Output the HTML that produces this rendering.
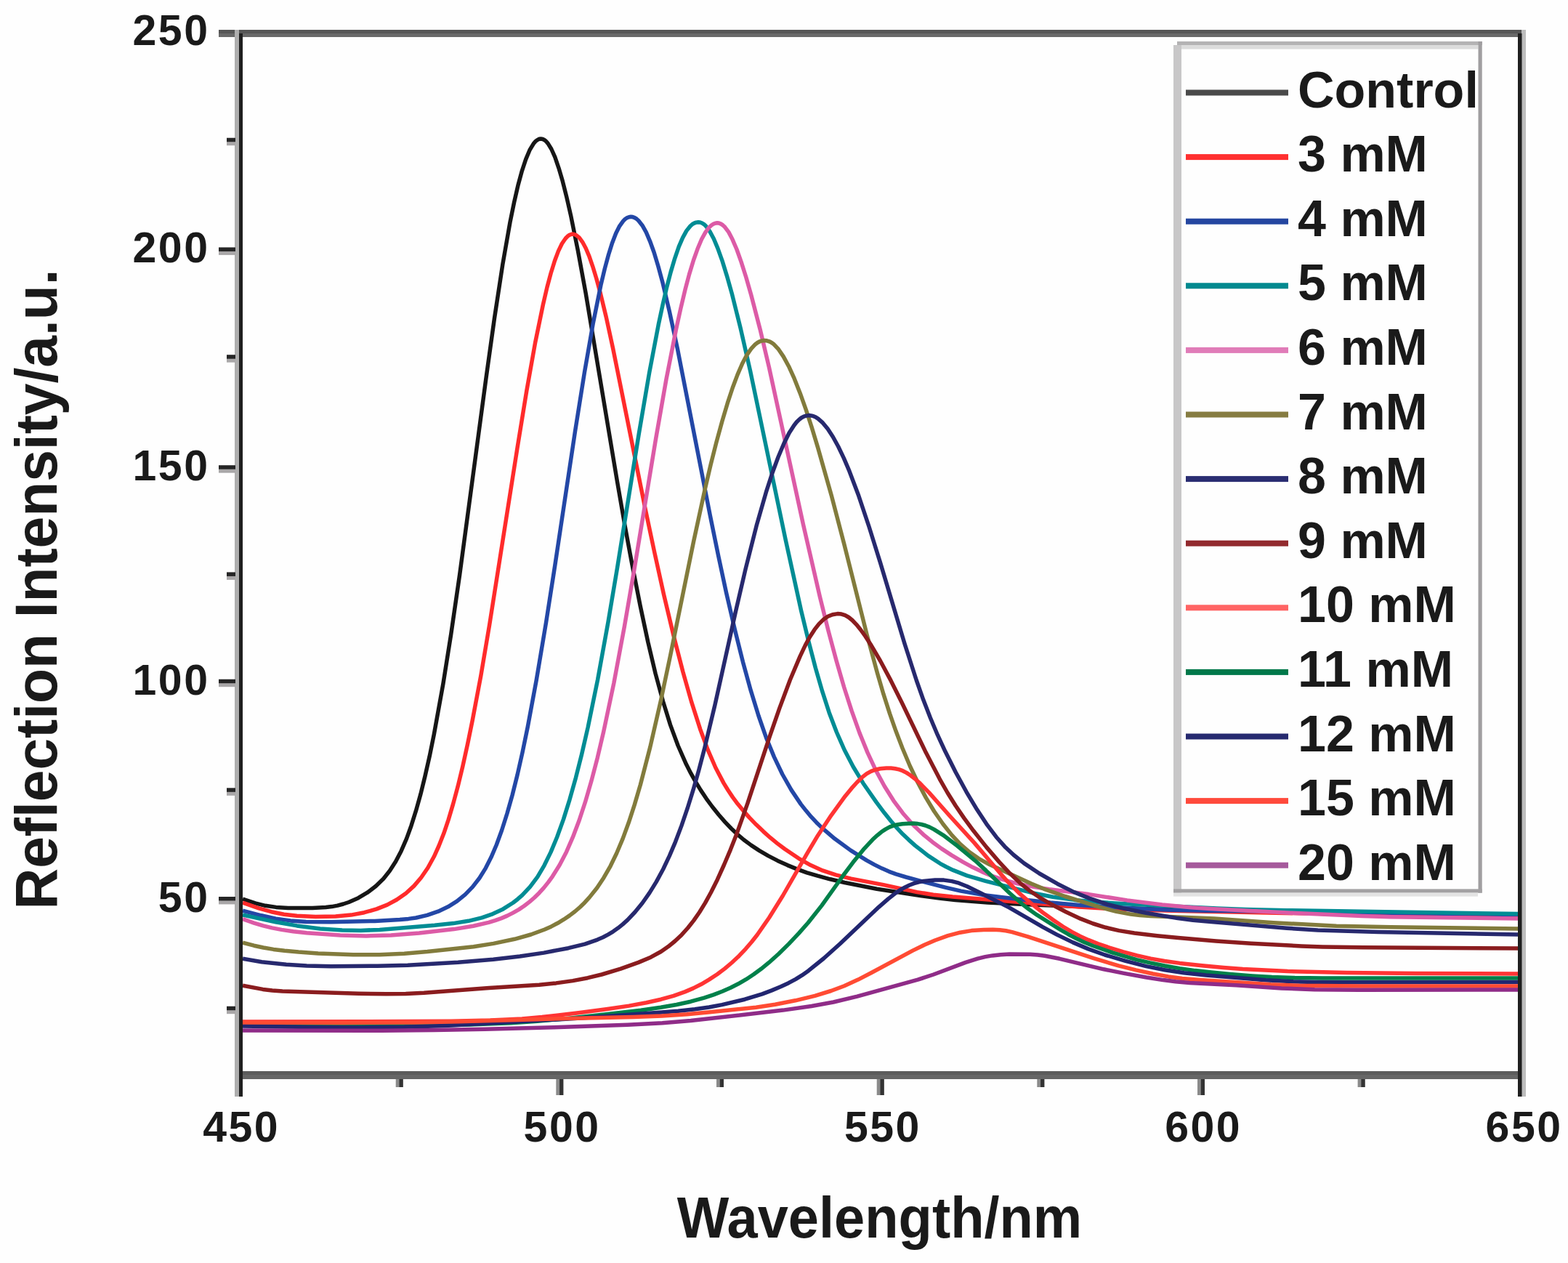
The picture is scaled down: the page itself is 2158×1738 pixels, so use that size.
<!DOCTYPE html>
<html><head><meta charset="utf-8"><style>
html,body{margin:0;padding:0;background:#fefefe;overflow:hidden}
svg{display:block}
</style></head><body>
<svg xmlns="http://www.w3.org/2000/svg" width="2158" height="1738" viewBox="0 0 2158 1738">
<rect x="0" y="0" width="2158" height="1738" fill="#fefefe"/>
<defs><clipPath id="plotclip"><rect x="334" y="51" width="1755" height="1423"/></clipPath></defs>
<g fill="none" stroke-width="5.5" stroke-linejoin="round" stroke-linecap="butt" clip-path="url(#plotclip)">
<path d="M334.0,1237.2L351.3,1242.9 365.3,1246.3 379.9,1248.4 396.6,1249.5 430.0,1249.5 448.4,1248.6 456.6,1247.6 464.5,1246.1 472.4,1244.0 480.0,1241.5 493.1,1235.7 505.7,1228.2 517.4,1219.2 527.7,1209.2 536.4,1198.3 544.6,1185.6 552.2,1170.9 559.6,1153.9 566.0,1136.2 572.4,1115.9 578.9,1092.8 585.0,1068.0 591.2,1040.7 597.3,1010.6 609.9,940.9 620.7,873.0 632.7,790.5 668.7,522.3 680.4,438.5 691.8,363.9 702.0,305.7 707.6,278.4 713.1,254.4 718.4,235.1 723.7,219.1 728.9,206.7 734.2,197.8 736.8,194.7 739.5,192.6 742.1,191.3 744.4,191.0 747.1,191.5 749.4,192.7 751.8,194.7 754.1,197.4 758.8,205.0 763.8,216.2 769.0,231.3 774.3,249.3 779.8,271.2 785.7,297.0 795.3,344.5 806.2,403.8 849.8,664.6 860.0,723.2 869.4,774.1 881.1,833.4 891.9,883.9 902.1,926.9 912.4,964.8 922.6,997.6 933.1,1026.0 944.5,1051.8 950.7,1063.9 957.1,1075.4 964.4,1087.4 972.0,1098.8 980.2,1110.0 989.0,1121.0 997.8,1131.1 1006.3,1140.0 1014.8,1148.1 1023.5,1155.5 1033.8,1163.1 1045.2,1170.6 1057.2,1177.6 1070.3,1184.4 1083.8,1190.6 1096.7,1195.9 1110.4,1200.8 1125.1,1205.2 1142.3,1209.8 1162.5,1214.5 1206.7,1223.2 1268.4,1232.8 1292.7,1236.0 1314.6,1238.4 1359.4,1241.9 1420.8,1245.0 1559.2,1250.1 1667.7,1253.5 1754.6,1255.5 1848.2,1257.0 2089.0,1259.0" stroke="#161616"/>
<path d="M334.0,1242.1L356.2,1249.8 373.5,1254.7 390.8,1258.2 408.6,1260.3 434.3,1261.4 461.8,1260.9 483.2,1259.1 501.3,1255.7 518.3,1250.9 532.9,1245.1 546.1,1238.0 558.7,1229.2 569.8,1219.1 579.7,1207.5 588.8,1194.3 597.3,1178.8 604.0,1164.0 610.8,1146.8 617.2,1127.9 623.6,1106.4 630.1,1082.3 636.8,1054.6 643.5,1024.2 650.2,991.4 661.7,930.4 673.6,860.1 712.0,616.4 724.8,537.7 736.8,470.6 747.4,419.1 752.9,395.5 758.2,375.8 763.5,358.8 768.4,345.6 773.4,335.3 778.4,328.0 781.0,325.3 783.4,323.6 786.0,322.4 788.3,322.1 790.4,322.4 792.7,323.4 797.1,326.9 801.5,332.8 806.2,341.5 810.9,352.6 815.8,366.8 820.8,383.2 826.1,402.7 834.3,436.5 843.6,479.3 887.8,698.9 901.0,761.2 913.5,817.8 927.0,874.5 939.9,924.5 951.9,966.7 963.6,1003.2 974.1,1031.6 984.9,1056.5 996.0,1077.6 1001.9,1087.3 1008.3,1096.9 1015.3,1106.3 1023.0,1115.6 1031.4,1125.1 1040.8,1134.8 1050.5,1144.1 1060.1,1152.7 1069.8,1160.6 1080.0,1168.3 1099.3,1181.3 1115.7,1190.6 1132.1,1197.9 1150.2,1203.9 1171.3,1209.1 1216.0,1217.6 1262.0,1227.6 1284.5,1231.2 1311.1,1234.1 1485.2,1248.0 1522.6,1250.2 1563.9,1251.9 1623.3,1253.5 1847.9,1258.0 1949.7,1259.1 2089.0,1260.0" stroke="#ff2b2b"/>
<path d="M334.0,1253.1L359.5,1259.8 379.6,1264.1 399.8,1266.9 421.2,1268.5 455.7,1268.8 515.7,1267.4 550.2,1265.6 562.2,1264.4 572.4,1263.0 587.9,1259.4 603.1,1254.2 616.6,1247.8 628.9,1240.1 640.3,1230.9 650.5,1220.4 659.9,1208.3 668.4,1194.6 676.0,1179.6 683.3,1162.5 690.6,1142.5 697.9,1119.5 705.0,1094.5 712.0,1066.5 719.0,1035.5 726.3,1000.1 738.3,935.6 751.5,856.9 763.8,778.0 791.5,593.6 804.4,512.6 816.1,445.8 826.9,392.4 832.2,370.1 837.5,350.5 842.7,333.9 847.7,321.0 852.7,311.1 857.7,304.1 860.3,301.5 862.9,299.8 865.6,298.7 868.2,298.3 870.8,298.6 873.5,299.6 876.1,301.2 878.7,303.5 884.0,310.2 889.3,319.7 894.5,331.8 900.1,347.3 905.9,366.5 911.8,388.2 921.4,428.8 932.3,479.4 977.3,709.2 988.7,765.0 999.5,815.3 1011.3,866.2 1022.4,910.7 1033.2,949.9 1044.0,985.0 1054.5,1015.1 1065.4,1041.6 1076.8,1065.5 1089.1,1087.1 1102.2,1106.6 1109.3,1115.6 1116.3,1123.9 1123.6,1131.7 1131.5,1139.4 1149.0,1154.3 1170.7,1170.1 1192.6,1183.9 1203.5,1189.9 1214.0,1195.1 1223.6,1199.3 1233.3,1202.8 1247.0,1207.0 1270.7,1213.4 1301.8,1221.3 1322.5,1226.1 1352.4,1231.4 1391.6,1236.3 1445.4,1242.1 1484.9,1245.4 1564.8,1250.2 1610.4,1252.3 1660.7,1253.2 1824.2,1254.5 1946.5,1256.8 2089.0,1258.5" stroke="#2347a6"/>
<path d="M334.0,1259.0L379.3,1268.7 408.6,1273.9 440.5,1277.9 470.9,1280.0 496.4,1280.4 522.4,1279.4 598.2,1273.3 623.9,1270.6 644.7,1267.3 663.1,1262.9 678.3,1257.6 692.4,1250.9 706.1,1242.2 712.6,1237.2 718.7,1231.9 729.5,1220.4 739.8,1206.6 749.1,1190.8 757.9,1172.9 766.7,1151.8 775.5,1127.4 783.9,1100.6 792.4,1070.4 800.6,1038.0 809.1,1001.0 822.6,935.3 836.9,856.6 849.5,781.6 879.3,596.7 893.6,513.1 906.2,446.9 912.1,419.4 917.6,395.5 923.2,374.1 928.8,355.3 934.3,339.4 939.6,327.1 944.8,317.6 950.1,311.0 952.7,308.7 955.4,307.1 958.0,306.1 960.9,305.7 963.6,306.0 966.2,307.0 968.8,308.6 971.5,311.1 976.7,318.1 982.3,328.5 987.8,341.6 994.0,358.9 1000.4,379.6 1007.2,403.7 1019.1,451.4 1032.6,510.5 1081.5,744.2 1102.5,839.8 1112.8,882.4 1122.4,919.3 1131.8,951.7 1141.1,980.4 1151.4,1007.5 1162.2,1032.0 1174.2,1055.0 1187.9,1077.7 1206.1,1103.9 1216.9,1118.3 1226.3,1130.0 1234.5,1139.4 1242.4,1147.8 1250.6,1155.6 1259.9,1163.9 1277.5,1177.6 1293.9,1188.3 1302.6,1193.0 1311.7,1197.4 1330.7,1204.9 1356.2,1212.4 1420.8,1228.7 1448.9,1234.3 1478.7,1238.4 1506.2,1241.1 1538.7,1243.2 1674.8,1249.9 1714.0,1251.4 1771.3,1252.7 2089.0,1257.5" stroke="#008c94"/>
<path d="M334.0,1264.6L349.5,1270.1 362.1,1273.9 374.4,1276.9 387.5,1279.4 403.6,1281.7 422.1,1283.7 468.3,1287.0 504.0,1287.9 537.9,1287.0 576.8,1284.0 624.8,1278.6 651.4,1274.3 672.5,1269.4 681.5,1266.7 690.0,1263.6 698.2,1260.1 706.1,1256.1 714.0,1251.6 721.6,1246.5 728.9,1240.9 735.7,1235.0 742.1,1228.7 748.5,1221.6 754.7,1213.9 760.5,1205.8 770.2,1190.3 779.6,1172.2 788.3,1152.2 796.8,1129.8 805.3,1104.2 813.8,1075.1 822.3,1042.7 830.7,1006.8 844.8,940.3 859.4,862.1 872.6,785.5 902.7,603.3 917.0,521.8 930.5,453.1 936.7,425.0 942.8,399.3 948.6,377.4 954.5,358.0 960.1,342.3 965.6,329.3 970.9,319.6 976.1,312.7 979.1,310.0 981.7,308.3 984.3,307.2 987.0,306.8 989.6,307.1 992.2,308.1 994.9,309.9 997.5,312.3 1002.8,319.4 1008.0,329.3 1013.9,343.0 1020.0,360.2 1026.8,381.5 1033.8,406.0 1046.1,453.2 1058.6,506.2 1105.5,721.8 1128.3,820.8 1140.0,867.8 1151.1,909.3 1161.6,945.5 1172.2,978.3 1183.0,1008.6 1194.1,1035.9 1205.2,1059.6 1217.2,1081.7 1229.8,1101.8 1242.7,1119.2 1256.4,1134.7 1271.9,1149.4 1283.3,1158.7 1295.9,1167.9 1309.7,1176.9 1325.2,1186.2 1338.9,1193.6 1351.5,1199.6 1364.6,1205.1 1378.4,1209.9 1400.0,1215.9 1423.7,1220.6 1444.2,1223.7 1498.3,1230.6 1551.3,1238.9 1599.6,1244.9 1639.6,1248.8 1665.4,1250.4 1776.6,1256.2 1874.3,1260.5 1914.1,1261.8 2089.0,1264.0" stroke="#dc5ba6"/>
<path d="M334.0,1297.1L349.5,1301.2 362.4,1304.0 376.4,1306.4 391.6,1308.3 410.9,1310.1 437.9,1311.9 486.1,1313.8 522.4,1313.7 556.3,1312.2 588.2,1309.6 651.7,1302.8 679.2,1298.4 708.2,1292.3 730.7,1286.0 749.7,1279.0 758.8,1274.9 767.6,1270.3 776.0,1265.2 783.9,1259.9 791.3,1254.3 798.3,1248.2 805.0,1241.7 811.4,1234.6 821.7,1221.7 831.0,1207.7 840.1,1191.8 848.6,1174.3 857.1,1154.1 865.3,1131.8 873.2,1107.6 881.4,1079.7 894.8,1028.0 909.4,964.3 922.6,902.0 954.5,745.6 970.3,672.8 978.2,639.2 985.8,609.1 993.7,580.2 1001.3,554.7 1008.3,533.5 1015.1,515.4 1021.5,500.6 1027.6,488.9 1033.8,479.9 1039.6,473.7 1042.6,471.5 1045.8,469.8 1048.7,468.9 1051.9,468.5 1055.4,468.8 1058.6,469.8 1061.9,471.5 1065.1,473.8 1071.5,480.7 1078.2,490.6 1085.6,504.2 1093.2,520.9 1101.1,540.9 1109.3,563.9 1117.2,588.2 1125.6,615.9 1144.4,682.2 1161.6,748.0 1192.9,872.6 1207.6,926.7 1216.0,955.4 1224.5,981.9 1233.0,1006.1 1242.1,1029.8 1252.3,1054.0 1263.1,1076.8 1274.3,1097.6 1285.7,1116.5 1297.7,1133.8 1309.7,1148.9 1321.6,1161.6 1334.2,1172.6 1347.1,1181.6 1361.7,1189.6 1419.4,1216.0 1436.9,1223.3 1465.9,1233.5 1513.0,1248.2 1536.4,1254.4 1556.3,1258.1 1568.8,1259.5 1583.2,1260.6 1670.7,1264.1 1752.6,1269.8 1839.2,1274.2 1913.8,1275.8 2089.0,1278.0" stroke="#827b3c"/>
<path d="M334.0,1319.2L360.3,1323.7 394.0,1327.3 422.1,1329.1 455.4,1329.7 519.5,1329.3 561.0,1328.2 630.4,1324.2 678.9,1320.2 715.5,1316.0 748.5,1311.1 782.2,1304.7 805.0,1299.1 822.3,1293.1 829.9,1289.8 837.2,1285.9 843.9,1281.8 850.6,1277.1 857.1,1271.9 863.5,1266.1 874.0,1255.0 884.0,1242.8 893.9,1228.6 903.3,1213.4 912.7,1196.0 921.4,1177.6 929.6,1158.3 937.8,1136.6 946.0,1112.7 953.9,1087.4 961.8,1059.7 969.4,1030.8 984.0,969.8 1012.4,841.8 1026.2,782.5 1041.1,723.6 1054.8,675.8 1063.0,650.7 1070.9,629.3 1078.8,610.5 1086.1,595.8 1092.9,585.2 1096.4,580.8 1099.6,577.6 1102.8,575.0 1106.3,573.1 1109.5,572.1 1113.1,571.6 1116.3,571.9 1119.5,572.7 1122.7,574.1 1125.9,576.1 1132.4,581.9 1139.1,590.1 1146.4,601.2 1153.7,614.5 1161.3,630.4 1168.9,648.2 1181.8,682.3 1196.1,725.0 1211.4,773.9 1245.0,885.8 1261.4,936.5 1270.7,962.8 1280.4,987.7 1290.3,1011.2 1300.9,1034.1 1315.2,1062.5 1330.1,1089.8 1344.8,1114.3 1358.8,1135.4 1371.1,1151.7 1382.8,1164.9 1395.1,1176.5 1409.7,1188.1 1430.5,1202.0 1455.3,1216.2 1478.2,1227.6 1499.2,1236.1 1524.1,1244.3 1546.0,1250.0 1577.3,1256.2 1620.9,1263.6 1641.7,1266.2 1667.4,1268.6 1771.0,1277.3 1813.7,1280.0 1897.1,1282.4 2089.0,1286.0" stroke="#27296e"/>
<path d="M334.0,1356.1L361.8,1361.4 374.7,1363.0 388.7,1364.1 494.0,1367.3 531.8,1367.8 558.4,1367.4 583.5,1366.3 673.1,1359.5 742.1,1355.3 765.2,1352.9 788.3,1349.6 808.8,1345.7 828.1,1341.0 854.2,1333.1 878.7,1324.4 895.7,1317.2 909.7,1309.5 919.7,1302.6 929.0,1295.0 938.1,1286.4 946.6,1277.0 954.8,1266.6 962.7,1255.2 970.6,1242.4 978.5,1228.0 987.3,1210.4 996.3,1190.5 1005.4,1169.1 1014.2,1146.7 1028.8,1105.7 1058.9,1014.7 1072.7,974.9 1087.3,935.8 1101.1,903.1 1108.1,888.4 1114.5,876.5 1121.0,866.4 1127.1,858.6 1133.2,852.6 1139.4,848.3 1145.8,845.7 1152.6,844.6 1158.1,845.1 1163.1,846.6 1168.1,849.5 1173.0,853.5 1178.6,859.3 1184.4,866.5 1190.9,875.5 1198.2,886.7 1211.6,909.5 1226.0,936.4 1240.9,966.3 1274.3,1035.6 1293.3,1072.1 1304.1,1091.0 1315.2,1108.8 1326.9,1125.9 1339.8,1143.3 1357.3,1165.4 1374.9,1185.9 1389.8,1201.8 1403.9,1215.1 1416.4,1225.2 1430.2,1234.6 1447.1,1244.5 1467.3,1255.0 1487.5,1264.4 1504.5,1271.0 1521.7,1276.3 1540.2,1280.6 1561.2,1284.0 1592.5,1287.7 1621.5,1290.6 1673.6,1295.1 1721.6,1298.2 1791.5,1301.9 1820.1,1302.9 1876.0,1303.7 2089.0,1305.0" stroke="#8a1c1e"/>
<path d="M334.0,1406.0L500.2,1405.8 620.4,1405.2 674.8,1404.1 718.4,1402.0 745.9,1399.6 796.2,1393.8 834.3,1388.8 865.6,1384.1 889.6,1379.7 909.7,1375.2 927.0,1370.4 942.5,1364.9 954.2,1359.9 965.3,1354.3 976.1,1347.9 987.0,1340.8 997.5,1332.9 1007.4,1324.5 1017.1,1315.4 1026.2,1305.8 1034.4,1296.3 1042.3,1286.2 1058.6,1262.7 1077.4,1232.5 1111.3,1173.6 1125.6,1149.7 1144.1,1121.8 1163.1,1095.7 1171.9,1084.9 1179.5,1076.5 1186.5,1069.7 1192.9,1064.7 1198.8,1061.4 1204.6,1059.2 1211.4,1057.8 1219.8,1057.1 1226.3,1057.1 1232.1,1057.7 1237.4,1058.9 1242.4,1060.7 1247.6,1063.4 1253.2,1067.0 1259.0,1071.5 1265.2,1077.0 1278.6,1090.7 1307.3,1123.0 1341.0,1159.9 1376.6,1201.8 1387.2,1213.6 1402.4,1228.8 1420.2,1244.1 1435.2,1255.7 1448.9,1265.6 1462.9,1275.0 1475.2,1282.4 1486.3,1288.2 1497.8,1293.4 1511.5,1298.8 1527.0,1304.1 1546.0,1309.9 1565.0,1314.9 1583.8,1319.1 1602.8,1322.5 1623.6,1325.4 1654.3,1328.8 1683.8,1331.6 1710.4,1333.6 1772.2,1336.5 1853.5,1338.4 1948.6,1339.5 2089.0,1340.0" stroke="#ff3434"/>
<path d="M334.0,1411.0L468.3,1411.7 566.6,1411.4 645.9,1410.1 703.2,1407.8 739.5,1405.2 781.3,1401.4 836.3,1395.6 881.9,1390.2 909.4,1386.3 931.1,1382.5 950.7,1378.2 969.1,1373.1 982.0,1368.9 994.0,1364.3 1005.4,1359.3 1016.2,1353.8 1026.8,1347.7 1037.3,1340.8 1047.5,1333.3 1058.1,1324.7 1071.5,1312.7 1085.6,1298.9 1099.3,1284.4 1112.2,1269.8 1130.9,1246.1 1161.0,1204.0 1173.9,1186.8 1188.2,1169.2 1200.8,1155.6 1207.3,1149.6 1213.1,1144.8 1218.7,1141.1 1224.2,1138.1 1229.5,1136.1 1235.3,1134.7 1242.1,1133.7 1250.6,1133.2 1257.3,1133.1 1263.1,1133.6 1268.4,1134.5 1273.7,1136.0 1279.2,1138.1 1285.1,1141.1 1298.2,1149.3 1317.3,1163.8 1342.1,1184.3 1357.0,1197.9 1389.8,1229.2 1407.1,1244.3 1416.4,1251.5 1427.0,1258.9 1458.6,1278.9 1470.3,1285.7 1481.4,1291.5 1492.5,1296.7 1504.2,1301.5 1531.7,1311.2 1564.2,1320.6 1582.6,1324.9 1602.8,1329.0 1623.8,1332.6 1644.9,1335.6 1667.1,1338.1 1692.9,1340.5 1723.6,1342.9 1750.5,1344.5 1781.8,1345.6 1820.1,1346.0 2089.0,1346.0" stroke="#00804a"/>
<path d="M334.0,1412.0L427.0,1413.6 494.9,1414.0 556.3,1413.3 612.8,1411.4 795.1,1401.3 903.9,1393.6 933.4,1391.2 956.3,1388.8 975.9,1386.0 993.7,1382.6 1025.0,1375.2 1049.0,1367.8 1062.2,1362.9 1074.4,1357.8 1085.3,1352.7 1095.2,1347.3 1104.0,1341.9 1112.8,1335.7 1133.5,1319.0 1156.1,1298.7 1209.3,1248.3 1222.2,1237.1 1233.0,1228.7 1239.4,1224.4 1245.6,1220.9 1251.7,1218.0 1257.9,1215.7 1264.3,1213.9 1271.3,1212.4 1286.8,1210.9 1299.1,1211.1 1309.9,1212.6 1319.6,1215.2 1331.0,1219.8 1350.3,1229.2 1388.9,1248.9 1434.6,1275.3 1454.5,1286.1 1476.7,1296.9 1497.8,1305.9 1520.6,1314.0 1549.0,1322.3 1577.3,1329.6 1603.1,1334.8 1629.4,1338.7 1659.8,1342.0 1742.3,1348.7 1779.8,1350.7 1809.3,1351.4 1851.7,1351.7 2089.0,1351.5" stroke="#222670"/>
<path d="M334.0,1407.0L470.3,1407.6 570.4,1407.0 631.5,1405.8 771.7,1401.7 871.7,1399.4 911.2,1397.9 945.4,1395.7 977.0,1392.8 1040.5,1386.2 1066.8,1382.3 1094.6,1376.8 1121.5,1370.3 1143.8,1363.5 1161.9,1356.7 1180.9,1348.1 1199.9,1338.3 1256.1,1308.1 1272.2,1300.3 1286.8,1294.0 1304.4,1287.7 1321.4,1283.2 1337.1,1280.6 1353.8,1279.4 1366.4,1279.3 1376.1,1279.8 1384.3,1280.8 1393.0,1282.6 1414.4,1288.9 1505.1,1318.7 1539.3,1328.8 1563.3,1334.9 1586.7,1340.0 1608.0,1343.9 1627.1,1346.4 1652.2,1348.5 1748.8,1354.7 1788.0,1356.3 1872.5,1356.9 2089.0,1357.0" stroke="#ff4b33"/>
<path d="M334.0,1418.0L525.0,1418.2 597.3,1417.5 667.2,1416.3 761.7,1413.8 863.5,1410.2 911.5,1407.7 950.7,1404.6 1077.7,1390.1 1116.9,1384.5 1147.0,1379.0 1179.8,1371.1 1263.1,1348.2 1284.8,1341.0 1329.0,1324.4 1345.6,1319.1 1355.9,1316.6 1366.1,1314.9 1377.2,1313.7 1389.2,1313.1 1417.6,1313.2 1428.1,1313.9 1437.8,1315.2 1458.3,1319.3 1519.1,1333.8 1546.9,1339.4 1577.9,1345.0 1600.7,1348.6 1618.0,1350.8 1637.3,1352.4 1701.1,1355.8 1763.7,1360.0 1809.3,1361.7 1870.5,1362.3 2089.0,1362.0" stroke="#8f2c88"/>
</g>
<rect x="301" y="41" width="1799" height="5" fill="#565656"/>
<rect x="301" y="46" width="1799" height="5" fill="#696969"/>
<rect x="323" y="1474" width="1777" height="11" fill="#666666"/>
<rect x="323" y="1474" width="1777" height="5" fill="#5c5c5c"/>
<rect x="323" y="41" width="6" height="1468" fill="#aeaeae"/>
<rect x="329" y="46" width="5" height="1463" fill="#1f1f1f"/>
<rect x="2094" y="41" width="6" height="1468" fill="#bdbdbd"/>
<rect x="2089" y="46" width="5.5" height="1463" fill="#1f1f1f"/>
<rect x="301" y="340.5" width="23" height="10.4" fill="#a9a7a8"/>
<rect x="301" y="340.5" width="23" height="5.4" fill="#252525"/>
<rect x="301" y="640.3" width="23" height="10.4" fill="#a9a7a8"/>
<rect x="301" y="640.3" width="23" height="5.4" fill="#252525"/>
<rect x="301" y="934.8" width="23" height="10.4" fill="#a9a7a8"/>
<rect x="301" y="934.8" width="23" height="5.4" fill="#252525"/>
<rect x="301" y="1234.0" width="23" height="10.4" fill="#a9a7a8"/>
<rect x="301" y="1234.0" width="23" height="5.4" fill="#252525"/>
<rect x="312" y="189.8" width="12" height="10.4" fill="#a9a7a8"/>
<rect x="312" y="189.8" width="12" height="5.4" fill="#252525"/>
<rect x="312" y="488.3" width="12" height="10.4" fill="#a9a7a8"/>
<rect x="312" y="488.3" width="12" height="5.4" fill="#252525"/>
<rect x="312" y="787.5" width="12" height="10.4" fill="#a9a7a8"/>
<rect x="312" y="787.5" width="12" height="5.4" fill="#252525"/>
<rect x="312" y="1084.4" width="12" height="10.4" fill="#a9a7a8"/>
<rect x="312" y="1084.4" width="12" height="5.4" fill="#252525"/>
<rect x="312" y="1384.8" width="12" height="10.4" fill="#a9a7a8"/>
<rect x="312" y="1384.8" width="12" height="5.4" fill="#252525"/>
<rect x="765.3" y="1485" width="10" height="22" fill="#8a8a8a"/>
<rect x="770.1" y="1485" width="5.2" height="22" fill="#333"/>
<rect x="1206.7" y="1485" width="10" height="22" fill="#8a8a8a"/>
<rect x="1211.5" y="1485" width="5.2" height="22" fill="#333"/>
<rect x="1648.0" y="1485" width="10" height="22" fill="#8a8a8a"/>
<rect x="1652.8" y="1485" width="5.2" height="22" fill="#333"/>
<rect x="544.7" y="1485" width="10" height="11" fill="#8a8a8a"/>
<rect x="549.5" y="1485" width="5.2" height="11" fill="#333"/>
<rect x="986.0" y="1485" width="10" height="11" fill="#8a8a8a"/>
<rect x="990.8" y="1485" width="5.2" height="11" fill="#333"/>
<rect x="1427.3" y="1485" width="10" height="11" fill="#8a8a8a"/>
<rect x="1432.1" y="1485" width="5.2" height="11" fill="#333"/>
<rect x="1868.6" y="1485" width="10" height="11" fill="#8a8a8a"/>
<rect x="1873.4" y="1485" width="5.2" height="11" fill="#333"/>
<text x="288.5" y="61.6" font-family="'Liberation Sans', Arial, sans-serif" font-weight="bold" font-size="59" letter-spacing="2.5" text-anchor="end" fill="#1a1a1a">250</text>
<text x="288.5" y="361.3" font-family="'Liberation Sans', Arial, sans-serif" font-weight="bold" font-size="59" letter-spacing="2.5" text-anchor="end" fill="#1a1a1a">200</text>
<text x="288.5" y="661.1" font-family="'Liberation Sans', Arial, sans-serif" font-weight="bold" font-size="59" letter-spacing="2.5" text-anchor="end" fill="#1a1a1a">150</text>
<text x="288.5" y="955.6" font-family="'Liberation Sans', Arial, sans-serif" font-weight="bold" font-size="59" letter-spacing="2.5" text-anchor="end" fill="#1a1a1a">100</text>
<text x="288.5" y="1254.8" font-family="'Liberation Sans', Arial, sans-serif" font-weight="bold" font-size="59" letter-spacing="2.5" text-anchor="end" fill="#1a1a1a">50</text>
<text x="332.2" y="1571" font-family="'Liberation Sans', Arial, sans-serif" font-weight="bold" font-size="59" letter-spacing="2.5" text-anchor="middle" fill="#1a1a1a">450</text>
<text x="773.6" y="1571" font-family="'Liberation Sans', Arial, sans-serif" font-weight="bold" font-size="59" letter-spacing="2.5" text-anchor="middle" fill="#1a1a1a">500</text>
<text x="1214.9" y="1571" font-family="'Liberation Sans', Arial, sans-serif" font-weight="bold" font-size="59" letter-spacing="2.5" text-anchor="middle" fill="#1a1a1a">550</text>
<text x="1656.2" y="1571" font-family="'Liberation Sans', Arial, sans-serif" font-weight="bold" font-size="59" letter-spacing="2.5" text-anchor="middle" fill="#1a1a1a">600</text>
<text x="2097.6" y="1571" font-family="'Liberation Sans', Arial, sans-serif" font-weight="bold" font-size="59" letter-spacing="2.5" text-anchor="middle" fill="#1a1a1a">650</text>
<text transform="translate(1210.5,1703) scale(0.948,1)" x="0" y="0" font-family="'Liberation Sans', Arial, sans-serif" font-weight="bold" font-size="80" text-anchor="middle" fill="#1a1a1a">Wavelength/nm</text>
<text transform="translate(77.5,811) rotate(-90) scale(0.969,1)" x="0" y="0" font-family="'Liberation Sans', Arial, sans-serif" font-weight="bold" font-size="81" text-anchor="middle" fill="#1a1a1a">Reflection Intensity/a.u.</text>
<rect x="1615" y="57" width="425" height="1172" fill="#fefefe"/>
<rect x="1615" y="62" width="11" height="1167" fill="#c8c7c8"/>
<rect x="1620" y="57" width="420" height="5" fill="#b4b3b4"/>
<rect x="1626" y="62" width="408.5" height="5.6" fill="#dcdcdc"/>
<rect x="2034.5" y="57" width="5.2" height="1171.6" fill="#a09ea0"/>
<rect x="1615" y="1223.4" width="424.7" height="5.2" fill="#a3a1a3"/>
<rect x="1615" y="1228.6" width="419" height="5" fill="#e3e3e3"/>
<rect x="1632" y="123.5" width="141" height="8" fill="#4a4a4a"/>
<text x="1786" y="147.5" font-family="'Liberation Sans', Arial, sans-serif" font-weight="bold" font-size="70" fill="#1a1a1a">Control</text>
<rect x="1632" y="212.1" width="141" height="8" fill="#ff3030"/>
<text x="1786" y="236.1" font-family="'Liberation Sans', Arial, sans-serif" font-weight="bold" font-size="70" fill="#1a1a1a">3 mM</text>
<rect x="1632" y="300.7" width="141" height="8" fill="#2446a0"/>
<text x="1786" y="324.7" font-family="'Liberation Sans', Arial, sans-serif" font-weight="bold" font-size="70" fill="#1a1a1a">4 mM</text>
<rect x="1632" y="389.3" width="141" height="8" fill="#00898f"/>
<text x="1786" y="413.3" font-family="'Liberation Sans', Arial, sans-serif" font-weight="bold" font-size="70" fill="#1a1a1a">5 mM</text>
<rect x="1632" y="477.9" width="141" height="8" fill="#e07cb8"/>
<text x="1786" y="501.9" font-family="'Liberation Sans', Arial, sans-serif" font-weight="bold" font-size="70" fill="#1a1a1a">6 mM</text>
<rect x="1632" y="566.5" width="141" height="8" fill="#867c42"/>
<text x="1786" y="590.5" font-family="'Liberation Sans', Arial, sans-serif" font-weight="bold" font-size="70" fill="#1a1a1a">7 mM</text>
<rect x="1632" y="655.1" width="141" height="8" fill="#2a2d72"/>
<text x="1786" y="679.1" font-family="'Liberation Sans', Arial, sans-serif" font-weight="bold" font-size="70" fill="#1a1a1a">8 mM</text>
<rect x="1632" y="743.7" width="141" height="8" fill="#922a2e"/>
<text x="1786" y="767.7" font-family="'Liberation Sans', Arial, sans-serif" font-weight="bold" font-size="70" fill="#1a1a1a">9 mM</text>
<rect x="1632" y="832.3" width="141" height="8" fill="#ff6464"/>
<text x="1786" y="856.3" font-family="'Liberation Sans', Arial, sans-serif" font-weight="bold" font-size="70" fill="#1a1a1a">10 mM</text>
<rect x="1632" y="920.9" width="141" height="8" fill="#00784a"/>
<text x="1786" y="944.9" font-family="'Liberation Sans', Arial, sans-serif" font-weight="bold" font-size="70" fill="#1a1a1a">11 mM</text>
<rect x="1632" y="1009.5" width="141" height="8" fill="#262a70"/>
<text x="1786" y="1033.5" font-family="'Liberation Sans', Arial, sans-serif" font-weight="bold" font-size="70" fill="#1a1a1a">12 mM</text>
<rect x="1632" y="1098.1" width="141" height="8" fill="#ff4a3c"/>
<text x="1786" y="1122.1" font-family="'Liberation Sans', Arial, sans-serif" font-weight="bold" font-size="70" fill="#1a1a1a">15 mM</text>
<rect x="1632" y="1186.7" width="141" height="8" fill="#a65a9c"/>
<text x="1786" y="1210.7" font-family="'Liberation Sans', Arial, sans-serif" font-weight="bold" font-size="70" fill="#1a1a1a">20 mM</text>
</svg>
</body></html>
